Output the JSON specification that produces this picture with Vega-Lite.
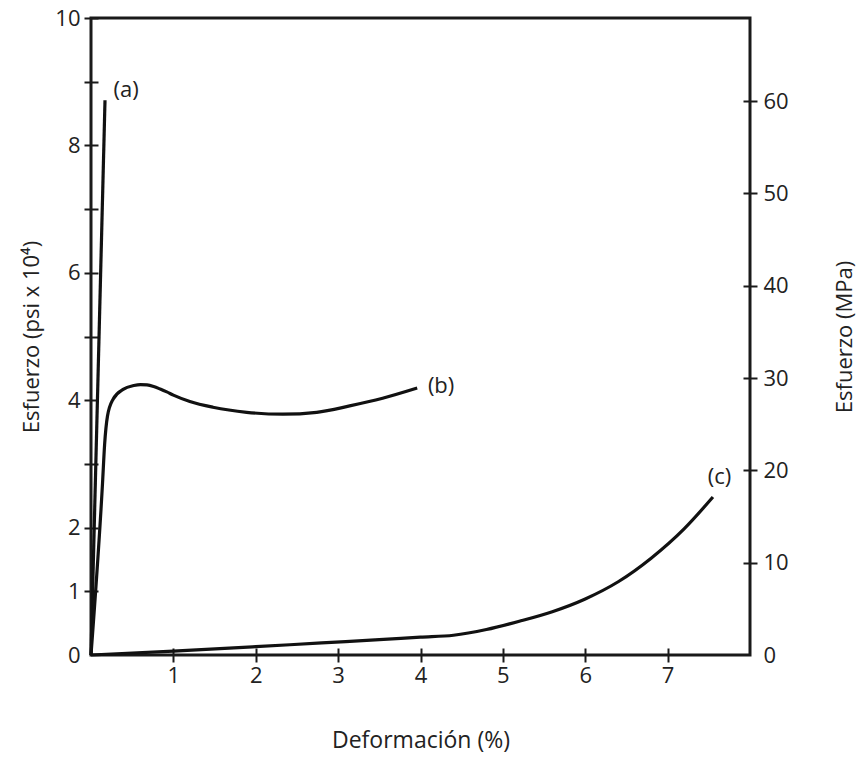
{
  "$schema": "https://vega.github.io/schema/vega-lite/v6.json",
  "width": 659,
  "height": 637,
  "autosize": {"type": "none"},
  "padding": {"left": 91, "top": 18, "right": 108, "bottom": 108},
  "background": "white",
  "config": {
    "view": {"stroke": "#1a1a1a", "strokeWidth": 3},
    "font": "Open Sans",
    "axis": {"labelColor": "#222", "titleColor": "#222", "titleFontWeight": "normal", "grid": false, "domain": false}
  },
  "layer": [
    {
      "encoding": {
        "x": {
          "field": "strain", "type": "quantitative",
          "scale": {"domain": [0, 8], "nice": false, "zero": false},
          "axis": {
            "orient": "bottom", "values": [1, 2, 3, 4, 5, 6, 7],
            "tickSize": 14, "offset": -7, "tickWidth": 2, "tickColor": "#1a1a1a",
            "labelFontSize": 22, "labelPadding": 3,
            "title": "Deformación (%)", "titleFontSize": 23, "titlePadding": 43
          }
        },
        "y": {
          "field": "stress", "type": "quantitative",
          "scale": {"domain": [0, 10], "nice": false},
          "axis": {
            "orient": "left", "values": [0, 1, 2, 3, 4, 5, 6, 7, 8, 9, 10],
            "labelExpr": "indexof([3,5,7,9], datum.value) >= 0 ? '' : datum.label",
            "tickSize": 14, "offset": -7, "tickWidth": 2, "tickColor": "#1a1a1a",
            "tickOpacity": {"condition": {"test": "datum.value == 0", "value": 0}, "value": 1},
            "labelFontSize": 22, "labelPadding": 4,
            "title": "Esfuerzo (psi x 10⁴)", "titleFontSize": 22, "titlePadding": 11
          }
        }
      },
      "layer": [
        {
          "data": {"values": [
            {"curve": "a", "strain": 0, "stress": 0},
            {"curve": "a", "strain": 0.17, "stress": 8.71},
            {"curve": "b", "strain": 0, "stress": 0},
            {"curve": "b", "strain": 0.14, "stress": 2.7},
            {"curve": "b", "strain": 0.165, "stress": 3.3},
            {"curve": "b", "strain": 0.2, "stress": 3.75},
            {"curve": "b", "strain": 0.27, "stress": 4.02},
            {"curve": "b", "strain": 0.39, "stress": 4.17},
            {"curve": "b", "strain": 0.52, "stress": 4.23},
            {"curve": "b", "strain": 0.6, "stress": 4.245},
            {"curve": "b", "strain": 0.68, "stress": 4.24},
            {"curve": "b", "strain": 0.76, "stress": 4.215},
            {"curve": "b", "strain": 0.84, "stress": 4.175},
            {"curve": "b", "strain": 0.92, "stress": 4.13},
            {"curve": "b", "strain": 1.0, "stress": 4.08},
            {"curve": "b", "strain": 1.2, "stress": 3.98},
            {"curve": "b", "strain": 1.48, "stress": 3.89},
            {"curve": "b", "strain": 1.89, "stress": 3.81},
            {"curve": "b", "strain": 2.33, "stress": 3.78},
            {"curve": "b", "strain": 2.74, "stress": 3.81},
            {"curve": "b", "strain": 3.14, "stress": 3.91},
            {"curve": "b", "strain": 3.54, "stress": 4.03},
            {"curve": "b", "strain": 3.96, "stress": 4.19},
            {"curve": "c", "strain": 0, "stress": 0},
            {"curve": "c", "strain": 1.0, "stress": 0.06},
            {"curve": "c", "strain": 2.0, "stress": 0.13},
            {"curve": "c", "strain": 2.8, "stress": 0.19},
            {"curve": "c", "strain": 3.5, "stress": 0.24},
            {"curve": "c", "strain": 4.0, "stress": 0.28},
            {"curve": "c", "strain": 4.4, "stress": 0.31},
            {"curve": "c", "strain": 4.8, "stress": 0.4},
            {"curve": "c", "strain": 5.2, "stress": 0.53},
            {"curve": "c", "strain": 5.6, "stress": 0.68},
            {"curve": "c", "strain": 6.0, "stress": 0.88},
            {"curve": "c", "strain": 6.4, "stress": 1.15},
            {"curve": "c", "strain": 6.8, "stress": 1.52},
            {"curve": "c", "strain": 7.2, "stress": 1.98},
            {"curve": "c", "strain": 7.55, "stress": 2.48}
          ]},
          "mark": {"type": "line", "interpolate": "monotone", "strokeWidth": 3.2, "color": "#111"},
          "encoding": {"detail": {"field": "curve"}}
        },
        {
          "data": {"values": [
            {"label": "(a)", "strain": 0.425, "stress": 8.87},
            {"label": "(b)", "strain": 4.25, "stress": 4.22},
            {"label": "(c)", "strain": 7.63, "stress": 2.79}
          ]},
          "mark": {"type": "text", "fontSize": 22, "color": "#222", "align": "center", "baseline": "middle"},
          "encoding": {"text": {"field": "label"}}
        }
      ]
    },
    {
      "data": {"values": [{"mpa": 0}]},
      "mark": {"type": "rule", "opacity": 0},
      "encoding": {
        "y": {
          "field": "mpa", "type": "quantitative",
          "scale": {"domain": [0, 69], "nice": false},
          "axis": {
            "orient": "right", "values": [0, 10, 20, 30, 40, 50, 60],
            "tickSize": 14, "offset": -7, "tickWidth": 2, "tickColor": "#1a1a1a",
            "tickOpacity": {"condition": {"test": "datum.value == 0", "value": 0}, "value": 1},
            "labelFontSize": 22, "labelPadding": 6,
            "title": "Esfuerzo (MPa)", "titleFontSize": 22, "titleAngle": 270, "titlePadding": 68
          }
        }
      }
    }
  ],
  "resolve": {"scale": {"y": "independent"}}
}
